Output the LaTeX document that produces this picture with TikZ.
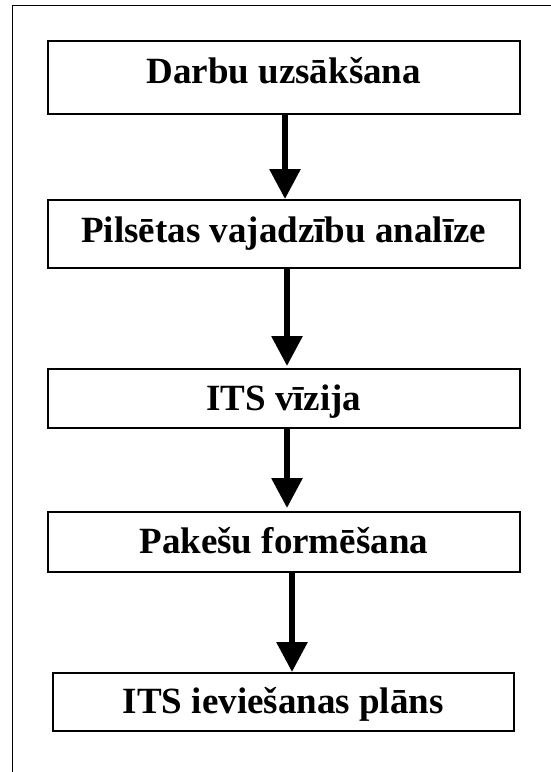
\documentclass[tikz,border=0pt]{standalone}
\usepackage{fontspec}
\setmainfont{Liberation Serif}
\usetikzlibrary{arrows.meta}
\begin{document}
\begin{tikzpicture}[x=1pt,y=-1pt,
  stepbox/.style={draw, line width=1.6pt, inner sep=0pt, anchor=north west,
    font=\fontsize{37}{40}\selectfont\bfseries, text height=24pt, text depth=0pt},
  flow/.style={line width=6pt, -{Triangle[width=30pt,length=30pt]}}]
  \useasboundingbox (0,0) rectangle (551,772);
  % frame of the surrounding cell
  \draw[line width=1.5pt] (12.5,772) -- (12.5,5.5) -- (551,5.5);
  % process steps
  \node[stepbox, minimum width=472pt, minimum height=73pt, text depth=12pt] (s1) at (47,40) {Darbu uzsākšana};
  \node[stepbox, minimum width=472pt, minimum height=68pt, text depth=6pt] (s2) at (47,199) {Pilsētas vajadzību analīze};
  \node[stepbox, minimum width=472pt, minimum height=59pt] (s3) at (47,368) {ITS vīzija};
  \node[stepbox, minimum width=472pt, minimum height=60pt] (s4) at (47,511) {Pakešu formēšana};
  \node[stepbox, minimum width=461pt, minimum height=58pt] (s5) at (52,672) {ITS ieviešanas plāns};
  % connectors
  \coordinate (t1) at (285,199);
  \coordinate (t2) at (287,366);
  \coordinate (t3) at (287,508);
  \coordinate (t4) at (292,672);
  \draw[flow] (s1.south -| t1) -- (t1);
  \draw[flow] (s2.south -| t2) -- (t2);
  \draw[flow] (s3.south -| t3) -- (t3);
  \draw[flow] (s4.south -| t4) -- (t4);
\end{tikzpicture}
\end{document}
